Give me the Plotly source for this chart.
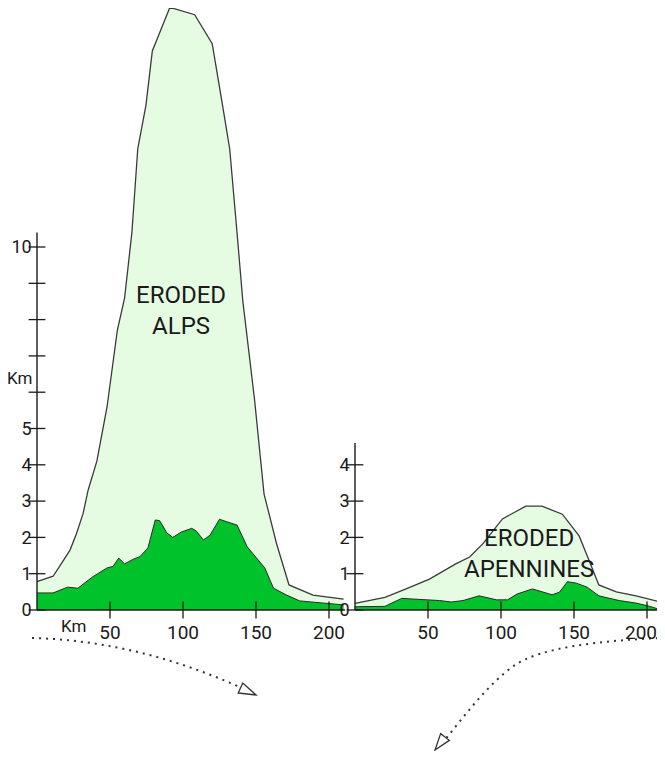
import plotly.graph_objects as go

# ---------------- data (km along section, km elevation) ----------------
alps_eroded_x = [0, 5, 11, 17, 22.6, 27, 31.6, 35, 41, 48, 55, 60, 65, 69, 74.6, 79, 91, 108, 120,
                 126.7, 132, 137, 141, 149, 155.5, 164, 172.6, 189, 210]
alps_eroded_y = [0.78, 0.85, 0.93, 1.3, 1.65, 2.1, 2.66, 3.3, 4.1, 5.6, 7.7, 8.6, 10.4, 12.7, 13.9,
                 15.4, 16.6, 16.4, 15.6, 14.0, 12.7, 10.4, 8.5, 5.8, 3.2, 1.84, 0.69, 0.41, 0.3]

alps_now_x = [0, 11, 21, 28, 38, 48, 52, 56, 60, 66, 70.5, 76, 81, 84, 89, 93, 99, 106, 109, 114,
              118.5, 125, 130, 137, 144, 150, 156, 162, 171, 180, 194, 210]
alps_now_y = [0.47, 0.47, 0.63, 0.6, 0.91, 1.16, 1.2, 1.43, 1.27, 1.4, 1.47, 1.71, 2.48, 2.46, 2.12,
              2.0, 2.15, 2.25, 2.18, 1.93, 2.06, 2.5, 2.43, 2.34, 1.74, 1.46, 1.16, 0.6, 0.41, 0.25,
              0.19, 0.14]

apen_eroded_x = [0, 20.5, 35, 51, 69, 78.5, 87.5, 101, 117, 128, 142, 153.5, 160, 167, 179, 192.5,
                 209.5, 210.5]
apen_eroded_y = [0.18, 0.35, 0.58, 0.85, 1.27, 1.46, 1.82, 2.51, 2.86, 2.86, 2.64, 2.04, 1.4, 0.69,
                 0.5, 0.39, 0.22, 0.02]

apen_now_x = [0, 20.5, 32, 42, 58, 66, 74, 85, 97, 104.5, 111, 121.5, 128.5, 135, 140, 145.5, 151.5,
              159, 167, 181, 192.5, 201, 210]
apen_now_y = [0.09, 0.1, 0.32, 0.3, 0.26, 0.22, 0.26, 0.39, 0.28, 0.28, 0.44, 0.58, 0.5, 0.42, 0.49,
              0.78, 0.74, 0.63, 0.39, 0.26, 0.19, 0.11, 0.0]

alps_y_ticks = [0, 1, 2, 3, 4, 5, 6, 7, 8, 9, 10]
alps_y_labels = [0, 1, 2, 3, 4, 5, 10]
apen_y_ticks = [0, 1, 2, 3, 4]
x_ticks = [50, 100, 150, 200]

alps_axis_top = 10.4
apen_axis_top = 4.6
alps_x_end = 211
apen_x_end = 212

LIGHT = "#e5fbe2"
DARK = "#00c22a"
INK = "#1a1a1a"
FONT = "Roboto"

OFF = 8                      # page body margin of the browser
W, H = 665 - OFF, 759 - 2 * OFF

fig = go.Figure()

def add_profile(xs_e, ys_e, xs_n, ys_n, xa, ya):
    fig.add_trace(go.Scatter(x=xs_e, y=ys_e, mode="lines", fill="tozeroy", fillcolor=LIGHT,
                             line=dict(color="#3a3a3a", width=1.3), xaxis=xa, yaxis=ya,
                             hoverinfo="skip"))
    fig.add_trace(go.Scatter(x=xs_n, y=ys_n, mode="lines", fill="tozeroy", fillcolor=DARK,
                             line=dict(color="#2a2a2a", width=1), xaxis=xa, yaxis=ya,
                             hoverinfo="skip"))

add_profile(alps_eroded_x, alps_eroded_y, alps_now_x, alps_now_y, "x", "y")
add_profile(apen_eroded_x, apen_eroded_y, apen_now_x, apen_now_y, "x2", "y2")

# axis lines
for xa, ya, top, xend in [("x", "y", alps_axis_top, alps_x_end), ("x2", "y2", apen_axis_top, apen_x_end)]:
    fig.add_trace(go.Scatter(x=[0, 0], y=[0, top], mode="lines", line=dict(color=INK, width=1.4),
                             xaxis=xa, yaxis=ya, hoverinfo="skip"))
    fig.add_trace(go.Scatter(x=[0, xend], y=[0, 0], mode="lines", line=dict(color=INK, width=1.6),
                             xaxis=xa, yaxis=ya, hoverinfo="skip"))

# tick marks crossing the axes
for xa, ya, yt in [("x", "y", alps_y_ticks), ("x2", "y2", apen_y_ticks)]:
    fig.add_trace(go.Scatter(x=[0] * len(yt), y=yt, mode="markers", cliponaxis=False,
                             marker=dict(symbol="line-ew", size=12, line=dict(color=INK, width=1.3)),
                             xaxis=xa, yaxis=ya, hoverinfo="skip"))
    fig.add_trace(go.Scatter(x=x_ticks, y=[0] * len(x_ticks), mode="markers", cliponaxis=False,
                             marker=dict(symbol="line-ns", size=12, line=dict(color=INK, width=1.3)),
                             xaxis=xa, yaxis=ya, hoverinfo="skip"))

px_per_km_x = 1.46
px_per_km_y = 36.3
x0_left, x0_right, y0_pix = 37 - OFF, 355 - OFF, 610 - OFF
xpad, ypad = 3, 0.25

ydom = [(H - (y0_pix + ypad * px_per_km_y)) / H, 1.0]
ytop = y0_pix / px_per_km_y

xtickfont = dict(family=FONT, size=19, color=INK)
ytickfont = dict(family=FONT, size=18, color=INK)
common_x = dict(showgrid=False, zeroline=False, showline=False, ticks="",
                tickfont=xtickfont, automargin=False, fixedrange=True, ticklabeloverflow="allow")
common_y = dict(showgrid=False, zeroline=False, showline=False, ticks="", tickfont=ytickfont,
                automargin=False, fixedrange=True, range=[-ypad, ytop], domain=ydom,
                ticklabeloverflow="allow")

fig.update_layout(
    width=W, height=H, margin=dict(l=0, r=0, t=0, b=0),
    paper_bgcolor="white", plot_bgcolor="white", showlegend=False,
    font=dict(family=FONT, color=INK),
    xaxis=dict(common_x, range=[-xpad, alps_x_end], tickvals=x_ticks,
               domain=[(x0_left - xpad * px_per_km_x) / W, (x0_left + alps_x_end * px_per_km_x) / W],
               anchor="y"),
    yaxis=dict(common_y, tickvals=alps_y_labels, anchor="x"),
    # the last label of the right panel is drawn below as an annotation, nudged inside the page
    xaxis2=dict(common_x, range=[-xpad, (W - x0_right) / px_per_km_x], tickvals=x_ticks[:-1],
                domain=[(x0_right - xpad * px_per_km_x) / W, 1.0], anchor="y2"),
    yaxis2=dict(common_y, tickvals=apen_y_ticks, anchor="x2"),
)

fig.add_annotation(x=x_ticks[-1], y=0, xref="x2", yref="y2", text=str(x_ticks[-1]), showarrow=False,
                   yanchor="middle", yshift=-22, xshift=-6, font=xtickfont)

# labels
fig.add_annotation(x=0, y=6.4, xref="x", yref="y", text="Km", showarrow=False, xanchor="right",
                   xshift=-3, font=dict(family=FONT, size=17, color=INK))
fig.add_annotation(x=25, y=0, xref="x", yref="y", text="Km", showarrow=False, yanchor="middle",
                   yshift=-16, font=dict(family=FONT, size=17, color=INK))
fig.add_annotation(x=98.6, y=8.24, xref="x", yref="y", text="ERODED<br>ALPS", showarrow=False,
                   font=dict(family=FONT, size=24, color=INK))
fig.add_annotation(x=119.5, y=1.57, xref="x2", yref="y2", text="ERODED<br>APENNINES", showarrow=False,
                   font=dict(family=FONT, size=24, color=INK))

# dotted arrows (decoration, page pixel positions)
def P(x, y):
    return f"{(x - OFF) / W:.5f},{1 - (y - OFF) / H:.5f}"

def head(tip, back, half):
    tx, ty = tip
    bx, by = back
    dx, dy = tx - bx, ty - by
    L = (dx * dx + dy * dy) ** 0.5
    nx, ny = -dy / L * half, dx / L * half
    return f"M {P(bx + nx, by + ny)} L {P(tx, ty)} L {P(bx - nx, by - ny)} Z"

fig.add_shape(type="path", xref="paper", yref="paper",
              path=f"M {P(32, 638)} C {P(110, 640)} {P(180, 660)} {P(244, 689)}",
              line=dict(color="#333", width=2, dash="2px,5px"))
fig.add_shape(type="path", xref="paper", yref="paper",
              path=head((256, 695), (240.5, 688), 5.5),
              line=dict(color="#333", width=1.3), fillcolor="white")

fig.add_shape(type="path", xref="paper", yref="paper",
              path=(f"M {P(665, 638)} C {P(600, 640)} {P(540, 648)} {P(515, 665)} "
                    f"C {P(490, 682)} {P(465, 715)} {P(444, 741)}"),
              line=dict(color="#333", width=2, dash="2px,5px"))
fig.add_shape(type="path", xref="paper", yref="paper",
              path=head((435, 750), (445, 737), 5.5),
              line=dict(color="#333", width=1.3), fillcolor="white")

fig.write_html("out.html")
